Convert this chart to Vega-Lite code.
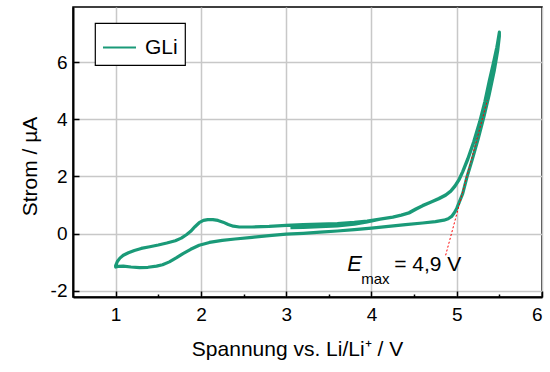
{
  "$schema": "https://vega.github.io/schema/vega-lite/v6.json",
  "width": 469,
  "height": 290,
  "autosize": "none",
  "padding": {"left": 73, "top": 7, "right": 8, "bottom": 75},
  "config": {
    "font": "Liberation Sans",
    "view": {"stroke": "black", "strokeWidth": 1.5},
    "axis": {
      "domainColor": "black",
      "domainWidth": 2,
      "tickColor": "black",
      "tickWidth": 1.5,
      "gridColor": "#c8c8c8",
      "gridWidth": 1.5,
      "labelFont": "Liberation Sans",
      "labelFontSize": 19,
      "labelColor": "black",
      "titleFont": "Liberation Sans",
      "titleFontSize": 21,
      "titleFontWeight": "normal",
      "titleColor": "black"
    },
    "legend": {
      "orient": "none",
      "legendX": 22,
      "legendY": 16,
      "strokeColor": "black",
      "strokeWidth": 1.2,
      "fillColor": "white",
      "padding": 7,
      "symbolType": "stroke",
      "symbolSize": 1089,
      "symbolStrokeWidth": 2,
      "labelFont": "Liberation Sans",
      "labelFontSize": 21,
      "labelColor": "black",
      "labelOffset": 8,
      "title": null
    }
  },
  "datasets": {
    "cv": [
      {"E": 3.05, "I": 0.21}, {"E": 3.2, "I": 0.22}, {"E": 3.4, "I": 0.24}, {"E": 3.6, "I": 0.27},
      {"E": 3.8, "I": 0.33}, {"E": 3.95, "I": 0.41}, {"E": 4.1, "I": 0.5}, {"E": 4.25, "I": 0.57},
      {"E": 4.35, "I": 0.64}, {"E": 4.44, "I": 0.72}, {"E": 4.52, "I": 0.85}, {"E": 4.6, "I": 0.97},
      {"E": 4.7, "I": 1.1}, {"E": 4.79, "I": 1.22}, {"E": 4.87, "I": 1.34}, {"E": 4.93, "I": 1.48},
      {"E": 4.98, "I": 1.66}, {"E": 5.03, "I": 1.9}, {"E": 5.07, "I": 2.16}, {"E": 5.13, "I": 2.6},
      {"E": 5.2, "I": 3.2}, {"E": 5.27, "I": 3.9}, {"E": 5.33, "I": 4.6}, {"E": 5.38, "I": 5.3},
      {"E": 5.43, "I": 5.95}, {"E": 5.47, "I": 6.5}, {"E": 5.5, "I": 7.05},
      {"E": 5.5, "I": 6.9}, {"E": 5.48, "I": 6.4}, {"E": 5.44, "I": 5.7}, {"E": 5.38, "I": 4.85},
      {"E": 5.32, "I": 4.1}, {"E": 5.25, "I": 3.3}, {"E": 5.18, "I": 2.57}, {"E": 5.12, "I": 1.98},
      {"E": 5.07, "I": 1.4}, {"E": 5.03, "I": 1.1}, {"E": 5.0, "I": 0.88}, {"E": 4.97, "I": 0.72},
      {"E": 4.94, "I": 0.6}, {"E": 4.9, "I": 0.52}, {"E": 4.85, "I": 0.47}, {"E": 4.75, "I": 0.42},
      {"E": 4.6, "I": 0.37}, {"E": 4.4, "I": 0.31}, {"E": 4.2, "I": 0.25}, {"E": 4.0, "I": 0.19},
      {"E": 3.8, "I": 0.14}, {"E": 3.6, "I": 0.09}, {"E": 3.4, "I": 0.05}, {"E": 3.2, "I": 0.01},
      {"E": 3.0, "I": -0.02}, {"E": 2.8, "I": -0.07}, {"E": 2.6, "I": -0.13}, {"E": 2.4, "I": -0.19},
      {"E": 2.25, "I": -0.24}, {"E": 2.1, "I": -0.31}, {"E": 1.98, "I": -0.41}, {"E": 1.88, "I": -0.55},
      {"E": 1.79, "I": -0.7}, {"E": 1.71, "I": -0.85}, {"E": 1.63, "I": -0.99}, {"E": 1.55, "I": -1.09},
      {"E": 1.48, "I": -1.14}, {"E": 1.38, "I": -1.18}, {"E": 1.28, "I": -1.19}, {"E": 1.18, "I": -1.17},
      {"E": 1.09, "I": -1.14}, {"E": 1.03, "I": -1.15}, {"E": 1.0, "I": -1.17},
      {"E": 1.0, "I": -1.12}, {"E": 1.02, "I": -0.98}, {"E": 1.05, "I": -0.86}, {"E": 1.09, "I": -0.76},
      {"E": 1.15, "I": -0.67}, {"E": 1.22, "I": -0.59}, {"E": 1.3, "I": -0.52}, {"E": 1.4, "I": -0.46},
      {"E": 1.5, "I": -0.4}, {"E": 1.6, "I": -0.33}, {"E": 1.7, "I": -0.25}, {"E": 1.77, "I": -0.16},
      {"E": 1.83, "I": -0.04}, {"E": 1.88, "I": 0.08}, {"E": 1.93, "I": 0.24}, {"E": 1.98, "I": 0.38},
      {"E": 2.03, "I": 0.46}, {"E": 2.08, "I": 0.49}, {"E": 2.14, "I": 0.49}, {"E": 2.2, "I": 0.46},
      {"E": 2.26, "I": 0.4}, {"E": 2.32, "I": 0.32}, {"E": 2.38, "I": 0.26}, {"E": 2.45, "I": 0.23},
      {"E": 2.6, "I": 0.23}, {"E": 2.8, "I": 0.25}, {"E": 3.0, "I": 0.29}, {"E": 3.2, "I": 0.31},
      {"E": 3.4, "I": 0.33}, {"E": 3.6, "I": 0.35}, {"E": 3.8, "I": 0.39}, {"E": 3.95, "I": 0.44},
      {"E": 4.1, "I": 0.51}, {"E": 4.25, "I": 0.58}, {"E": 4.35, "I": 0.65}, {"E": 4.44, "I": 0.73},
      {"E": 4.52, "I": 0.86}, {"E": 4.6, "I": 0.98}, {"E": 4.7, "I": 1.11}, {"E": 4.79, "I": 1.23},
      {"E": 4.87, "I": 1.35}, {"E": 4.93, "I": 1.49}, {"E": 4.98, "I": 1.67}, {"E": 5.03, "I": 1.91},
      {"E": 5.07, "I": 2.17}, {"E": 5.13, "I": 2.62}, {"E": 5.2, "I": 3.22}, {"E": 5.27, "I": 3.92},
      {"E": 5.33, "I": 4.62}, {"E": 5.38, "I": 5.32}, {"E": 5.43, "I": 5.97}, {"E": 5.47, "I": 6.52},
      {"E": 5.5, "I": 7.0}
    ],
    "tangent": [{"E1": 4.87, "I1": -0.76, "E2": 5.36, "I2": 4.67}],
    "labelE": [{"E": 3.717, "I": -1.31, "t": "E"}],
    "labelSub": [{"E": 3.88, "I": -1.75, "t": "max"}],
    "labelVal": [{"E": 4.267, "I": -1.31, "t": "= 4,9 V"}]
  },
  "layer": [
    {
      "data": {"name": "cv"},
      "mark": {"type": "line", "strokeWidth": 3.2, "strokeJoin": "round"},
      "encoding": {
        "x": {
          "field": "E",
          "type": "quantitative",
          "scale": {"domain": [0.5, 6], "nice": false, "zero": false},
          "axis": {
            "title": "Spannung vs. Li/Li⁺ / V",
            "values": [1, 1.5, 2, 2.5, 3, 3.5, 4, 4.5, 5, 5.5, 6],
            "labelExpr": "datum.value % 1 === 0 ? '' + datum.value : ''",
            "tickSize": {"condition": {"test": "datum.value % 1 === 0", "value": -6}, "value": -3},
            "gridOpacity": {"condition": {"test": "datum.value % 1 === 0", "value": 1}, "value": 0},
            "labelPadding": 14,
            "titlePadding": 14,
            "titleX": 224
          }
        },
        "y": {
          "field": "I",
          "type": "quantitative",
          "scale": {"domain": [-2.22, 7.93], "nice": false, "zero": false},
          "axis": {
            "title": "Strom / µA",
            "values": [-2, -1, 0, 1, 2, 3, 4, 5, 6, 7],
            "labelExpr": "datum.value % 2 === 0 ? '' + datum.value : ''",
            "tickSize": {"condition": {"test": "datum.value % 2 === 0", "value": -6}, "value": -3},
            "gridOpacity": {"condition": {"test": "datum.value % 2 === 0", "value": 1}, "value": 0},
            "labelPadding": 12,
            "titlePadding": 10,
            "titleY": 159
          }
        },
        "color": {
          "datum": "GLi",
          "type": "nominal",
          "scale": {"domain": ["GLi"], "range": ["#1a9a78"]}
        },
        "order": {"value": null}
      }
    },
    {
      "data": {"name": "tangent"},
      "mark": {"type": "rule", "color": "#ff0000", "strokeWidth": 1, "strokeDash": [2, 2]},
      "encoding": {
        "x": {"field": "E1", "type": "quantitative"},
        "y": {"field": "I1", "type": "quantitative"},
        "x2": {"field": "E2"},
        "y2": {"field": "I2"}
      }
    },
    {
      "data": {"name": "labelE"},
      "mark": {"type": "text", "align": "left", "baseline": "alphabetic", "fontSize": 22, "fontStyle": "italic", "color": "black"},
      "encoding": {
        "x": {"field": "E", "type": "quantitative"},
        "y": {"field": "I", "type": "quantitative"},
        "text": {"field": "t"}
      }
    },
    {
      "data": {"name": "labelSub"},
      "mark": {"type": "text", "align": "left", "baseline": "alphabetic", "fontSize": 15, "color": "black"},
      "encoding": {
        "x": {"field": "E", "type": "quantitative"},
        "y": {"field": "I", "type": "quantitative"},
        "text": {"field": "t"}
      }
    },
    {
      "data": {"name": "labelVal"},
      "mark": {"type": "text", "align": "left", "baseline": "alphabetic", "fontSize": 21, "color": "black"},
      "encoding": {
        "x": {"field": "E", "type": "quantitative"},
        "y": {"field": "I", "type": "quantitative"},
        "text": {"field": "t"}
      }
    }
  ]
}
